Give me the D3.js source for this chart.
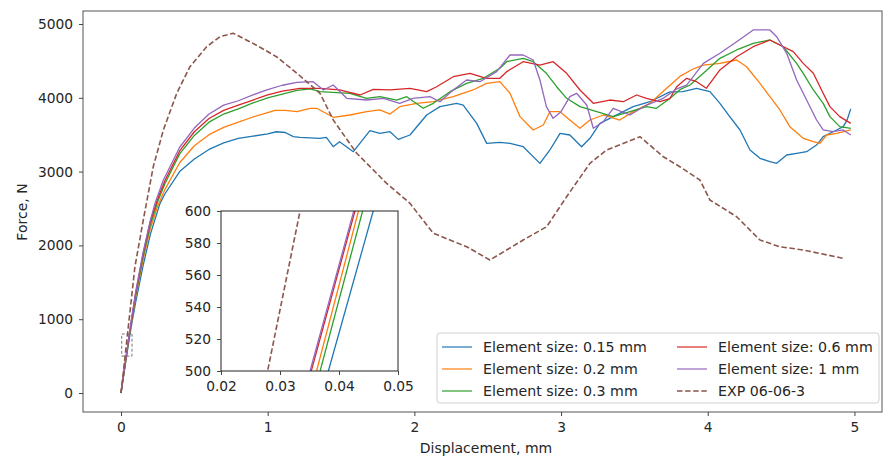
<!DOCTYPE html>
<html>
<head>
<meta charset="utf-8">
<title>Force-displacement</title>
<script src="https://cdn.jsdelivr.net/npm/d3@7"></script>
<style>
  body { margin: 0; background: #fff; }
  svg text { font-family: "DejaVu Sans", sans-serif; fill: #262626; }
  .tick text { font-size: 13.8px; }
  .domain { stroke: #444; }
  .tick line { stroke: #444; }
  .legend text { font-size: 14.2px; }
</style>
</head>
<body>
<script>
// ---- data ----
var seriesNames = ["Element size: 0.15 mm", "Element size: 0.2 mm", "Element size: 0.3 mm",
                   "Element size: 0.6 mm", "Element size: 1 mm", "EXP 06-06-3"];
var colors = ["#1f77b4", "#ff7f0e", "#2ca02c", "#d62728", "#9467bd", "#8c564b"];

var blue015 = [[0,0],[0.0382,500],[0.0458,600],[0.07,900],[0.1,1230],[0.15,1720],[0.2,2150],[0.266,2570],[0.3,2700],
  [0.4,3000],[0.5,3170],[0.6,3300],[0.7,3390],[0.8,3450],[0.9,3480],[1.0,3510],[1.06,3540],[1.12,3530],[1.175,3473],
  [1.22,3464],[1.357,3451],[1.40,3464],[1.447,3337],[1.49,3405],[1.584,3270],[1.697,3554],[1.765,3519],[1.834,3541],
  [1.89,3437],[1.97,3496],[2.084,3767],[2.174,3880],[2.288,3925],[2.333,3902],[2.425,3654],[2.493,3383],[2.583,3395],
  [2.652,3383],[2.742,3337],[2.856,3112],[2.924,3293],[2.993,3519],[3.06,3496],[3.14,3337],[3.197,3451],[3.265,3654],
  [3.356,3745],[3.492,3880],[3.606,3947],[3.742,4080],[3.83,4083],[3.924,4129],[4.015,4083],[4.083,3925],[4.15,3745],
  [4.22,3564],[4.288,3293],[4.356,3180],[4.424,3134],[4.47,3112],[4.538,3225],[4.606,3248],[4.674,3270],[4.742,3360],
  [4.787,3473],[4.879,3564],[4.924,3609],[4.95,3700],[4.975,3850]];

var orange02 = [[0,0],[0.0362,500],[0.0433,600],[0.07,940],[0.1,1300],[0.15,1800],[0.2,2230],[0.25,2530],[0.3,2760],
  [0.4,3120],[0.5,3350],[0.6,3500],[0.7,3600],[0.8,3670],[0.9,3740],[1.0,3800],[1.05,3830],[1.12,3830],[1.2,3812],
  [1.29,3858],[1.334,3858],[1.447,3736],[1.56,3767],[1.675,3812],[1.765,3835],[1.834,3780],[1.90,3880],[2.016,3925],
  [2.129,3947],[2.265,4015],[2.40,4106],[2.493,4196],[2.583,4220],[2.652,4061],[2.72,3745],[2.81,3564],[2.879,3631],
  [2.924,3812],[2.993,3812],[3.06,3699],[3.129,3587],[3.197,3699],[3.288,3767],[3.40,3699],[3.492,3812],[3.606,3925],
  [3.72,4129],[3.81,4290],[3.90,4390],[3.97,4444],[4.083,4466],[4.197,4512],[4.265,4421],[4.356,4196],[4.424,4015],
  [4.492,3835],[4.56,3609],[4.651,3451],[4.72,3405],[4.765,3383],[4.81,3496],[4.879,3519],[4.975,3564]];

var green03 = [[0,0],[0.0368,500],[0.044,600],[0.07,950],[0.1,1320],[0.15,1840],[0.2,2280],[0.25,2590],[0.3,2840],
  [0.4,3240],[0.5,3490],[0.6,3670],[0.7,3780],[0.8,3850],[0.9,3930],[1.0,4000],[1.1,4050],[1.2,4100],[1.29,4120],
  [1.357,4083],[1.56,4061],[1.675,3993],[1.765,4015],[1.88,3970],[1.948,4015],[2.06,3858],[2.129,3925],[2.243,4083],
  [2.356,4196],[2.47,4264],[2.583,4400],[2.629,4489],[2.742,4535],[2.81,4489],[2.90,4332],[2.97,4150],[3.038,3993],
  [3.129,3880],[3.243,3812],[3.356,3745],[3.47,3812],[3.583,3880],[3.65,3858],[3.742,3990],[3.81,4110],[3.879,4173],
  [3.97,4332],[4.083,4535],[4.197,4648],[4.31,4738],[4.424,4783],[4.515,4692],[4.606,4466],[4.651,4332],[4.72,4106],
  [4.787,3925],[4.833,3745],[4.90,3609],[4.975,3587]];

var red06 = [[0,0],[0.0353,500],[0.0427,600],[0.07,970],[0.1,1350],[0.15,1880],[0.2,2320],[0.25,2630],[0.3,2880],
  [0.4,3280],[0.5,3540],[0.6,3720],[0.7,3830],[0.8,3900],[0.9,3970],[1.0,4040],[1.1,4090],[1.22,4129],[1.357,4129],
  [1.49,4106],[1.63,4038],[1.72,4115],[1.834,4106],[1.97,4129],[2.084,4083],[2.152,4150],[2.265,4286],[2.38,4332],
  [2.49,4264],[2.583,4264],[2.629,4354],[2.742,4489],[2.856,4444],[2.946,4489],[3.038,4332],[3.129,4106],[3.22,3925],
  [3.333,3970],[3.424,3947],[3.515,4038],[3.583,3993],[3.674,3947],[3.742,3990],[3.788,4150],[3.856,4264],[3.924,4218],
  [3.99,4129],[4.083,4377],[4.197,4557],[4.31,4692],[4.424,4783],[4.492,4715],[4.583,4625],[4.651,4466],[4.72,4332],
  [4.787,4061],[4.833,3880],[4.90,3745],[4.975,3654]];

var purple1 = [[0,0],[0.0351,500],[0.0425,600],[0.07,980],[0.1,1370],[0.15,1900],[0.2,2340],[0.232,2570],[0.289,2886],
  [0.4,3330],[0.5,3590],[0.6,3780],[0.7,3900],[0.8,3960],[0.9,4040],[1.0,4110],[1.1,4170],[1.2,4210],[1.31,4218],
  [1.38,4106],[1.447,4173],[1.539,3993],[1.675,3970],[1.79,3993],[1.90,3925],[1.99,3993],[2.106,4015],[2.174,3947],
  [2.265,4106],[2.356,4241],[2.447,4218],[2.561,4354],[2.652,4580],[2.742,4580],[2.81,4512],[2.856,4241],[2.90,3880],
  [2.946,3722],[3.0,3812],[3.06,4015],[3.106,4061],[3.175,3902],[3.22,3587],[3.288,3676],[3.356,3858],[3.47,3767],
  [3.583,3902],[3.697,3993],[3.788,4120],[3.856,4173],[3.97,4466],[4.083,4603],[4.197,4760],[4.31,4919],[4.424,4919],
  [4.47,4828],[4.538,4603],[4.606,4241],[4.674,3970],[4.742,3699],[4.787,3564],[4.856,3541],[4.924,3564],[4.975,3496]];

var exp0606 = [[0,0],[0.0279,500],[0.0334,600],[0.095,1711],[0.152,2344],[0.22,3066],[0.289,3564],[0.38,4061],
  [0.47,4421],[0.584,4692],[0.675,4828],[0.765,4874],[0.90,4738],[1.06,4557],[1.20,4332],[1.357,4061],[1.447,3699],
  [1.607,3248],[1.811,2841],[1.97,2570],[2.129,2164],[2.357,1982],[2.515,1802],[2.742,2073],[2.902,2253],[3.038,2660],
  [3.197,3112],[3.31,3293],[3.538,3473],[3.697,3202],[3.81,3066],[3.947,2886],[4.015,2615],[4.197,2389],[4.356,2073],
  [4.492,1982],[4.651,1938],[4.924,1825]];

var allSeries = [blue015, orange02, green03, red06, purple1, exp0606];

var xTicks = [0, 1, 2, 3, 4, 5];
var yTicks = [0, 1000, 2000, 3000, 4000, 5000];
var insetXTicks = [0.02, 0.03, 0.04, 0.05];
var insetYTicks = [500, 520, 540, 560, 580, 600];
var zoomBox = [0.005, 0.075, 500, 800];

// ---- layout ----
var width = 884, height = 460;
var svg = d3.select("body").append("svg").attr("width", width).attr("height", height);

var x = d3.scaleLinear().domain([-0.259, 5.188]).range([83, 882]);
var y = d3.scaleLinear().domain([-257, 5176]).range([412, 11]);

var xi = d3.scaleLinear().domain([0.02, 0.05]).range([221, 398]);
var yi = d3.scaleLinear().domain([500, 600]).range([371, 211]);

var defs = svg.append("defs");
defs.append("clipPath").attr("id", "clipMain").append("rect")
  .attr("x", 83).attr("y", 11).attr("width", 799).attr("height", 401);
defs.append("clipPath").attr("id", "clipInset").append("rect")
  .attr("x", 221).attr("y", 211).attr("width", 177).attr("height", 160);

function drawCurves(g, sx, sy) {
  var line = d3.line().x(function(d){ return sx(d[0]); }).y(function(d){ return sy(d[1]); });
  g.selectAll("path.curve")
    .data(allSeries)
    .enter()
    .append("path")
    .attr("class", "curve")
    .attr("d", line)
    .attr("fill", "none")
    .attr("stroke", function(d,i){ return colors[i]; })
    .attr("stroke-width", function(d,i){ return i == 5 ? 1.6 : 1.3; })
    .attr("stroke-dasharray", function(d,i){ return i == 5 ? "5.5 2.6" : null; })
    .attr("stroke-linejoin", "round");
}

// main curves
var main = svg.append("g").attr("clip-path", "url(#clipMain)");
drawCurves(main, x, y);

// small dashed box showing the zoomed zone
svg.append("rect")
  .attr("x", x(zoomBox[0])).attr("y", y(zoomBox[3]))
  .attr("width", x(zoomBox[1]) - x(zoomBox[0]))
  .attr("height", y(zoomBox[2]) - y(zoomBox[3]))
  .attr("fill", "none").attr("stroke", "#555").attr("stroke-width", 0.8)
  .attr("stroke-dasharray", "3 2");

// frame of the main axes
svg.append("rect").attr("x", 83).attr("y", 11).attr("width", 799).attr("height", 401)
  .attr("fill", "none").attr("stroke", "#555").attr("stroke-width", 1);

svg.append("g")
  .attr("transform", "translate(0,412)")
  .call(d3.axisBottom(x).tickValues(xTicks).tickFormat(d3.format("d")).tickSize(4).tickPadding(6))
  .call(function(g){ g.select(".domain").remove(); });

svg.append("g")
  .attr("transform", "translate(83,0)")
  .call(d3.axisLeft(y).tickValues(yTicks).tickFormat(d3.format("d")).tickSize(4).tickPadding(6))
  .call(function(g){ g.select(".domain").remove(); });

svg.append("text").attr("x", 486).attr("y", 453).attr("text-anchor", "middle")
  .attr("font-size", "14px").text("Displacement, mm");
svg.append("text").attr("transform", "translate(27,212) rotate(-90)").attr("text-anchor", "middle")
  .attr("font-size", "14px").text("Force, N");

// ---- inset ----
svg.append("rect").attr("x", 221).attr("y", 211).attr("width", 177).attr("height", 160).attr("fill", "#fff");
var inset = svg.append("g").attr("clip-path", "url(#clipInset)");
drawCurves(inset, xi, yi);
svg.append("rect").attr("x", 221).attr("y", 211).attr("width", 177).attr("height", 160)
  .attr("fill", "none").attr("stroke", "#222").attr("stroke-width", 1);

svg.append("g")
  .attr("transform", "translate(0,371)")
  .call(d3.axisBottom(xi).tickValues(insetXTicks).tickFormat(d3.format(".2f")).tickSize(4).tickPadding(6))
  .call(function(g){ g.select(".domain").remove(); });
svg.append("g")
  .attr("transform", "translate(221,0)")
  .call(d3.axisLeft(yi).tickValues(insetYTicks).tickFormat(d3.format("d")).tickSize(4).tickPadding(6))
  .call(function(g){ g.select(".domain").remove(); });

// ---- legend ----
var legend = svg.append("g").attr("class", "legend");
legend.append("rect").attr("x", 437).attr("y", 333).attr("width", 442).attr("height", 70)
  .attr("rx", 3).attr("fill", "rgba(255,255,255,0.85)").attr("stroke", "#d0d0d0");

var items = legend.selectAll("g.item").data(seriesNames).enter().append("g")
  .attr("class", "item")
  .attr("transform", function(d,i){
    var col = Math.floor(i / 3), row = i % 3;
    return "translate(" + (442 + col * 235) + "," + (347 + row * 22) + ")";
  });
items.append("line").attr("x1", 0).attr("x2", 30).attr("y1", 0).attr("y2", 0)
  .attr("stroke", function(d,i){ return colors[i]; })
  .attr("stroke-width", function(d,i){ return i == 5 ? 1.4 : 1.2; })
  .attr("stroke-dasharray", function(d,i){ return i == 5 ? "5.5 2.6" : null; });
items.append("text").attr("x", 41).attr("y", 5).text(function(d){ return d; });
</script>
</body>
</html>
